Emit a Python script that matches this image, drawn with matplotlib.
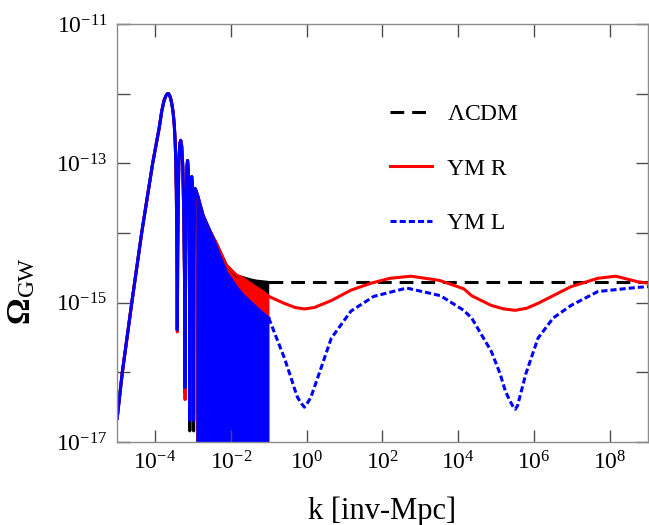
import numpy as np
import matplotlib
matplotlib.use('Agg')
import matplotlib.pyplot as plt

plt.rcParams['font.family'] = ['Liberation Serif', 'DejaVu Serif']
plt.rcParams['mathtext.fontset'] = 'custom'
plt.rcParams['mathtext.rm'] = 'Liberation Serif'
plt.rcParams['mathtext.it'] = 'Liberation Serif:italic'
plt.rcParams['mathtext.bf'] = 'Liberation Serif:bold'
plt.rcParams['axes.unicode_minus'] = False

# ---- data (log10 k, log10 Omega_GW) ----
# shared low-k humps (all three curves coincide here)
hump_logk = [-5.0, -4.86, -4.61, -4.35, -4.06, -3.89, -3.82, -3.76, -3.71, -3.67, -3.64, -3.61, -3.58, -3.55, -3.52,
             -3.49, -3.465, -3.45, -3.435, -3.42,
             -3.40, -3.385, -3.37, -3.345, -3.32, -3.295, -3.265, -3.24, -3.22,
             -3.19, -3.175, -3.155, -3.14, -3.12, -3.10, -3.09,
             -3.07, -3.055, -3.04, -3.03, -3.015, -3.0, -2.99,
             -2.97, -2.955, -2.945, -2.935, -2.925]
hump_logO = [-16.68, -16.0, -15.0, -14.0, -13.0, -12.5, -12.25, -12.1, -12.03, -12.0, -12.0, -12.03, -12.08, -12.16, -12.27,
             -12.45, -12.7, -12.98, -13.4, -14.3,
             -14.3, -13.5, -12.98, -12.72, -12.67, -12.75, -13.05, -13.7, -14.6,
             -14.3, -13.5, -13.05, -12.96, -13.1, -13.6, -14.3,
             -14.2, -13.5, -13.22, -13.19, -13.3, -13.8, -14.5,
             -14.3, -13.55, -13.36, -13.38, -13.5]

# bottoms of the first resolved oscillations
dip_logk = [-3.41, -3.205, -3.08, -2.98]
dip_lcdm = [-15.39, -16.30, -16.84, -16.84]
dip_R = [-15.42, -16.39, -16.60, -16.60]
dip_L = [-15.39, -16.22, -16.69, -16.69]

# upper envelope of the dense oscillation band (filled)
dense_logk = [-2.92, -2.87, -2.73, -2.56, -2.38, -2.12, -1.86, -1.68, -1.50, -1.33, -1.16, -1.0]
dense_lcdm = [-13.39, -13.47, -13.75, -13.96, -14.15, -14.46, -14.61, -14.64, -14.67, -14.69, -14.70, -14.71]
dense_R = [-13.39, -13.47, -13.75, -13.96, -14.15, -14.46, -14.60, -14.65, -14.72, -14.78, -14.84, -14.91]
dense_L = [-13.39, -13.47, -13.75, -13.96, -14.20, -14.56, -14.77, -14.89, -14.98, -15.07, -15.15, -15.22]

# smooth part, k > 0.1
lcdm_logk = [-1.0, 9.0]
lcdm_logO = [-14.71, -14.71]

R_logk = [-1.0, -0.59, -0.3, -0.06, 0.2, 0.65, 1.17, 1.70, 2.2, 2.75, 3.5, 4.14, 4.35, 4.87, 5.2, 5.5, 5.8,
          6.1, 6.97, 7.68, 8.15, 8.73, 9.0]
R_logO = [-14.91, -15.01, -15.07, -15.09, -15.07, -14.97, -14.82, -14.72, -14.65, -14.62, -14.68, -14.80, -14.90,
          -15.04, -15.09, -15.11, -15.08, -15.01, -14.77, -14.65, -14.62, -14.70, -14.72]

L_logk = [-1.0, -0.59, -0.41, -0.33, -0.24, -0.15, -0.06, 0.02, 0.11, 0.2, 0.29, 0.65, 1.17, 1.77, 2.64,
          3.53, 4.14, 4.35, 4.87, 5.1, 5.24, 5.35, 5.45, 5.5, 5.56, 5.66, 5.78, 6.1, 6.5, 6.97, 7.68, 8.73, 9.0]
L_logO = [-15.22, -15.79, -16.08, -16.22, -16.36, -16.44, -16.50, -16.44, -16.36, -16.22, -16.08, -15.51,
          -15.12, -14.91, -14.79, -14.90, -15.11, -15.22, -15.70, -16.02, -16.27, -16.40, -16.50, -16.53,
          -16.48, -16.27, -16.02, -15.51, -15.22, -15.04, -14.84, -14.78, -14.77]

labels = [r'$\Lambda$CDM', 'YM R', 'YM L']
colors = ['black', 'red', 'blue']

xtick_exps = [-4, -2, 0, 2, 4, 6, 8]
ytick_exps = [-17, -16, -15, -14, -13, -12, -11]


def lowk(dips):
    lk = np.array(hump_logk + dip_logk)
    lo = np.array(hump_logO + dips)
    order = np.argsort(lk)
    return 10.0**lk[order], 10.0**lo[order]


fig = plt.figure(figsize=(6.49, 5.25), dpi=100)
ax = fig.add_axes([117/649, 83/525, 531/649, 418/525])

curves = [
    (dip_lcdm, dense_lcdm, lcdm_logk, lcdm_logO, (0, (4.5, 2.6))),
    (dip_R, dense_R, R_logk, R_logO, '-'),
    (dip_L, dense_L, L_logk, L_logO, (0, (2.0, 1.0))),
]

for (dips, dense, lk, lo, ls), c, lab in zip(curves, colors, labels):
    k1, o1 = lowk(dips)
    ax.plot(k1, o1, color=c, lw=2.2, solid_capstyle='butt')
    kd = 10.0**np.array(dense_logk)
    od = 10.0**np.array(dense)
    ax.fill_between(kd, 1e-18, od, color=c, lw=0)
    ax.plot(kd, od, color=c, lw=2.2)
    ax.plot(10.0**np.array(lk), 10.0**np.array(lo), color=c, lw=2.2, ls=ls, label=lab)

ax.set_xscale('log')
ax.set_yscale('log')
ax.set_xlim(1e-5, 1e9)
ax.set_ylim(1e-17, 1e-11)

ax.set_xticks(10.0**np.array(xtick_exps))
ax.set_xticklabels([r'$\mathdefault{10^{%d}}$' % e for e in xtick_exps])
ax.set_yticks(10.0**np.array(ytick_exps))
ax.set_yticklabels([r'$\mathdefault{10^{%d}}$' % e if e % 2 else '' for e in ytick_exps])
ax.minorticks_off()

ax.tick_params(direction='in', length=9, width=1, top=True, right=True,
               color='0.3', labelsize=17, pad=7)
for s in ax.spines.values():
    s.set_color('0.55')
    s.set_linewidth(1)

ax.set_xlabel('k [inv-Mpc]', fontsize=22)
ax.xaxis.set_label_coords(0.5, -0.13)
ax.set_ylabel(r'$\mathbf{\Omega}_{\mathrm{GW}}$', fontsize=24)
ax.yaxis.set_label_coords(-0.15, 0.36)

ax.legend(loc='upper left', bbox_to_anchor=(0.515, 0.81), frameon=False, fontsize=17,
          handlelength=1.75, handletextpad=0.65, labelspacing=1.4, borderpad=0, borderaxespad=0)

plt.savefig('out.png', dpi=100)
